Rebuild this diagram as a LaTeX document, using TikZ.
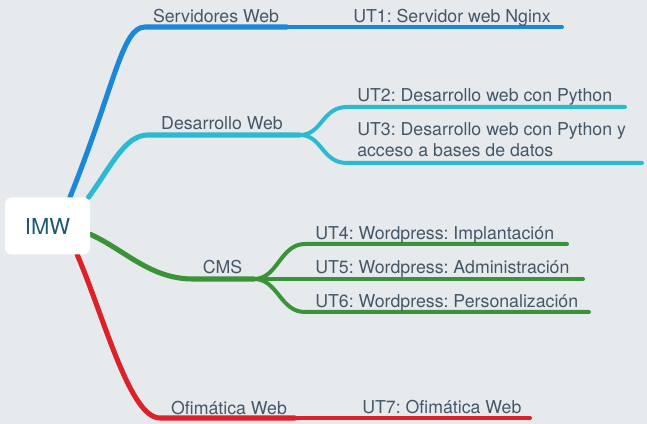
\documentclass[tikz,border=0pt]{standalone}
\usepackage{fontspec}
\setmainfont{TeX Gyre Heros}
\usetikzlibrary{calc}
\frenchspacing
\definecolor{fondo}{RGB}{231,234,237}
\definecolor{texto}{RGB}{68,87,104}
\definecolor{raiz}{RGB}{30,88,110}
\definecolor{azul}{RGB}{27,135,219}
\definecolor{cian}{RGB}{44,186,211}
\definecolor{verde}{RGB}{58,147,57}
\definecolor{rojo}{RGB}{220,33,41}
\pgfdeclarelayer{bg}
\pgfdeclarelayer{fondocapa}
\pgfsetlayers{fondocapa,bg,main}
\tikzset{
	rama/.style={line width=3.8pt, line cap=round},
	subrama/.style={line width=3pt, line cap=round},
	tema/.style={anchor=base, inner sep=0pt, text=texto, font=\fontsize{13.3}{15.75}\selectfont},
	unidad/.style={anchor=base west, inner sep=0pt, text=texto, align=left, font=\fontsize{13.3}{15.75}\selectfont},
	raizbox/.style={fill=white, rounded corners=5pt, minimum width=63.75pt, minimum height=42.75pt, text=raiz, font=\fontsize{16.5}{18}\selectfont}
}

\begin{document}
\begin{tikzpicture}[x=0.75pt,y=0.75pt,yscale=-1,xscale=1]
	\begin{pgfonlayer}{fondocapa}
	\fill [fondo] (0,0) rectangle (647,424);
	\end{pgfonlayer}
	\useasboundingbox (0,0) rectangle (647,424);

	\node [raizbox] (imw) at (47.5,226) {IMW};

	% puntos de las ramas
	\coordinate (srv) at (145,27);
	\coordinate (srvfin) at (287,27);
	\coordinate (ut1fin) at (562,27);
	\coordinate (des) at (148,135);
	\coordinate (desfin) at (300,135);
	\coordinate (ut2) at (347,107);
	\coordinate (ut2fin) at (625,107);
	\coordinate (ut3) at (347,163);
	\coordinate (ut3fin) at (642,163);
	\coordinate (cms) at (193,279);
	\coordinate (cmsfin) at (254,279);
	\coordinate (ut4) at (305,244);
	\coordinate (ut4fin) at (567,244);
	\coordinate (ut5fin) at (583,279);
	\coordinate (ut6) at (305,312);
	\coordinate (ut6fin) at (589,312);
	\coordinate (ofi) at (160,418);
	\coordinate (ofifin) at (295,418);
	\coordinate (ut7fin) at (530,418);

	\begin{pgfonlayer}{bg}
	% Servidores Web
	\draw [rama, azul] (imw.52) .. controls (115,85) and (122,27) .. (srv) -- (srvfin);
	\draw [subrama, azul] (srvfin) -- (ut1fin);
	% Desarrollo Web
	\draw [rama, cian] (imw.35) .. controls (112,165) and (125,135) .. (des) -- (desfin);
	\draw [subrama, cian] (desfin) .. controls (322,135) and (322,107) .. (ut2) -- (ut2fin);
	\draw [subrama, cian] (desfin) .. controls (322,135) and (322,163) .. (ut3) -- (ut3fin);
	% CMS
	\draw [rama, verde] (imw.-11) .. controls (125,250) and (150,279) .. (cms) -- (cmsfin);
	\draw [subrama, verde] (cmsfin) .. controls (278,279) and (280,244) .. (ut4) -- (ut4fin);
	\draw [subrama, verde] (cmsfin) -- (ut5fin);
	\draw [subrama, verde] (cmsfin) .. controls (278,279) and (280,312) .. (ut6) -- (ut6fin);
	% Ofimatica Web
	\draw [rama, rojo] (imw.-44) .. controls (105,320) and (130,418) .. (ofi) -- (ofifin);
	\draw [subrama, rojo] (ofifin) -- (ut7fin);
	\end{pgfonlayer}

	\node [tema] (tsrv) at (216,23) {Servidores Web};
	\node [tema] (tdes) at (222,130) {Desarrollo Web};
	\node [tema] (tcms) at (222.5,274) {CMS};
	\node [tema] (tofi) at (229,414) {Ofimática Web};

	\node [unidad] (tut1) at (353,23) {UT1: Servidor web Nginx};
	\node [unidad] (tut2) at (357,102) {UT2: Desarrollo web con Python};
	\node [unidad] (tut3) at (357,157) {UT3: Desarrollo web con Python y\\acceso a bases de datos};
	\node [unidad] (tut4) at (315,240) {UT4: Wordpress: Implantación};
	\node [unidad] (tut5) at (315,274) {UT5: Wordpress: Administración};
	\node [unidad] (tut6) at (315,308) {UT6: Wordpress: Personalización};
	\node [unidad] (tut7) at (362,413) {UT7: Ofimática Web};
\end{tikzpicture}
\end{document}
